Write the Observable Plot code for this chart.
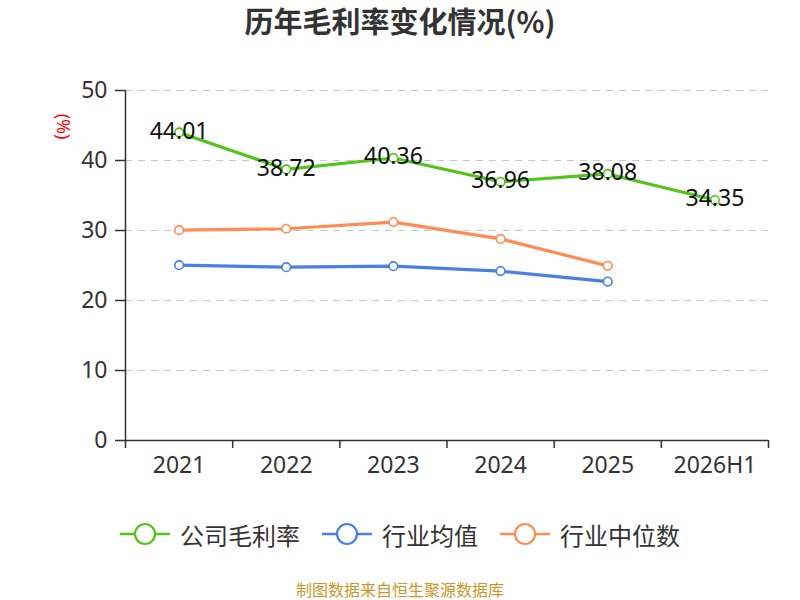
<!DOCTYPE html>
<html>
<head>
<meta charset="utf-8">
<script src="https://cdn.jsdelivr.net/npm/d3@7"></script>
<script src="https://cdn.jsdelivr.net/npm/@observablehq/plot@0.6"></script>
<style>
  body { margin: 0; background: #fff; font-family: "Noto Sans", "Noto Sans CJK SC", sans-serif; }
  #wrap { width: 800px; height: 600px; position: relative; overflow: hidden; }
  #title { height: 50px; line-height: 40px; text-align: center; font-size: 29px; font-weight: bold; color: #333; font-family: "Noto Sans CJK SC", sans-serif; }
  #chart svg { display: block; }
  #legend { height: 68px; display: flex; justify-content: center; align-items: center; gap: 22px; font-size: 24px; color: #333; font-family: "Noto Sans CJK SC", sans-serif; }
  .item { display: flex; align-items: center; gap: 10px; }
  #footer { position: absolute; left: 0; top: 578px; width: 800px; height: 22px; line-height: 22px; text-align: center; font-size: 16px; color: #c9972c; font-family: "Noto Sans CJK SC", sans-serif; }
</style>
</head>
<body>
<div id="wrap">
  <div id="title">历年毛利率变化情况(%)</div>
  <div id="chart"></div>
  <div id="legend"></div>
  <div id="footer">制图数据来自恒生聚源数据库</div>
</div>
<script>
const categories = ["2021", "2022", "2023", "2024", "2025", "2026H1"];
const companyMargin = [44.01, 38.72, 40.36, 36.96, 38.08, 34.35];
const industryMean = [25.05, 24.76, 24.9, 24.2, 22.7];
const industryMedian = [30.05, 30.25, 31.2, 28.8, 24.95];
const yTicks = [0, 10, 20, 30, 40, 50];

const seriesNames = ["公司毛利率", "行业均值", "行业中位数"];
const seriesColors = ["#52c41a", "#4a7fe3", "#ff8b55"];
const seriesValues = [companyMargin, industryMean, industryMedian];

const toRows = (vals) => vals.map((v, i) => ({i: i + 0.5, v}));
const rows = seriesValues.map(toRows);

const boundaries = d3.range(categories.length + 1);
const centers = categories.map((c, i) => i + 0.5);

const marks = [
  Plot.ruleY(yTicks.filter(t => t > 0), {y: d => d, stroke: "#c8c8c8", strokeDasharray: "7,6", strokeWidth: 1.2}),
  Plot.axisY({ticks: yTicks, tickSize: 10, tickPadding: 8, fontSize: 23, fill: "#333", stroke: "#333", strokeWidth: 1.5, label: null}),
  Plot.ruleX([0], {y1: 0, y2: 50, stroke: "#333", strokeWidth: 1.5}),
  Plot.ruleY([0], {stroke: "#333", strokeWidth: 1.5}),
  Plot.axisX({ticks: boundaries, tickFormat: () => "", tickSize: 8, stroke: "#333", strokeWidth: 1.5, label: null}),
  Plot.axisX({ticks: centers, tickFormat: d => categories[Math.round(d - 0.5)], tickSize: 0, tickPadding: 16, fontSize: 23, fill: "#333", label: null}),
  Plot.text(["(%)"], {frameAnchor: "top-left", dx: -63, dy: 36, rotate: 90, textAnchor: "middle", lineAnchor: "middle", fill: "#ff0000", fontSize: 18})
];
rows.forEach((r, k) => {
  marks.push(Plot.line(r, {x: "i", y: "v", stroke: seriesColors[k], strokeWidth: 3.2}));
  marks.push(Plot.dot(r, {x: "i", y: "v", r: 4.3, fill: "#fff", stroke: seriesColors[k], strokeWidth: 1.6}));
});
marks.push(Plot.text(rows[0], {x: "i", y: "v", text: d => d.v.toFixed(2), fontSize: 23, fill: "#111", dy: -1}));

const chart = Plot.plot({
  width: 800,
  height: 450,
  marginTop: 40,
  marginBottom: 60,
  marginLeft: 125,
  marginRight: 32,
  x: {type: "linear", domain: [0, categories.length], axis: null},
  y: {domain: [0, 50], axis: null},
  style: {fontFamily: '"Noto Sans", "Noto Sans CJK SC", sans-serif', background: "#fff", overflow: "visible"},
  marks
});
document.getElementById("chart").appendChild(chart);

const legend = document.getElementById("legend");
seriesNames.forEach((name, k) => {
  const item = document.createElement("div");
  item.className = "item";
  item.innerHTML = `<svg width="50" height="24"><line x1="0" y1="12" x2="50" y2="12" stroke="${seriesColors[k]}" stroke-width="2.5"/><circle cx="25" cy="12" r="10" fill="#fff" stroke="${seriesColors[k]}" stroke-width="2.2"/></svg><span>${name}</span>`;
  legend.appendChild(item);
});
</script>
</body>
</html>
